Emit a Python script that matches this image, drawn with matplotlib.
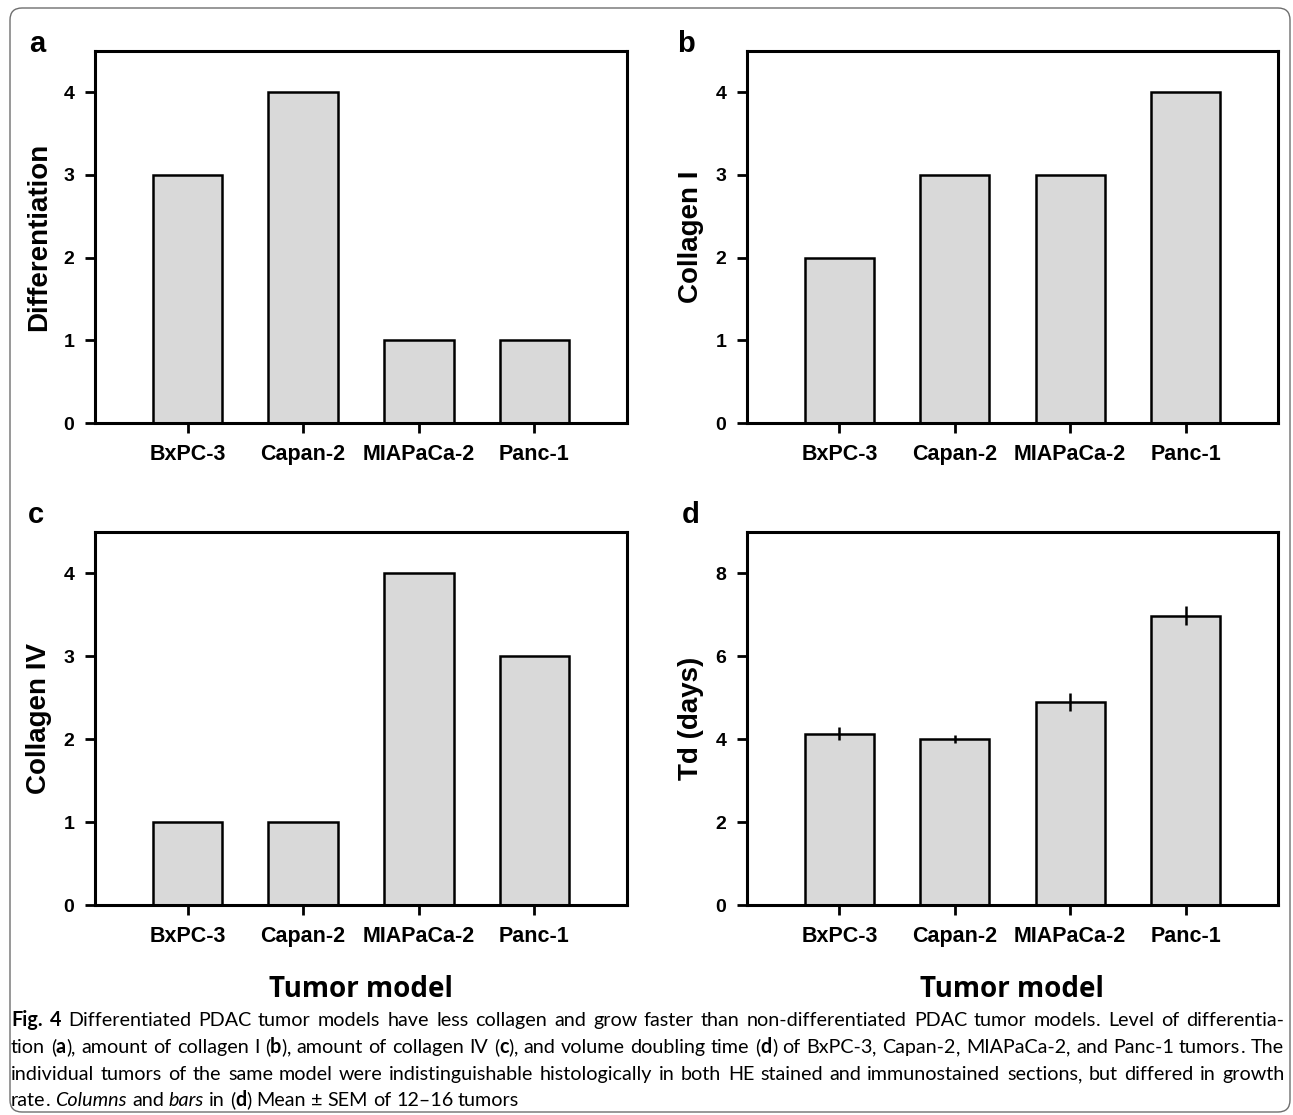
import re
import matplotlib
matplotlib.use("Agg")
import matplotlib.pyplot as plt
from matplotlib.patches import FancyBboxPatch

# data
models = ["BxPC-3", "Capan-2", "MIAPaCa-2", "Panc-1"]
differentiation = [3, 4, 1, 1]
collagen_1 = [2, 3, 3, 4]
collagen_4 = [1, 1, 4, 3]
td_days = [4.13, 4.01, 4.90, 6.97]
td_sem = [0.15, 0.10, 0.22, 0.23]

caption_lines = [
    "*Fig.* *4*  Differentiated PDAC tumor models have less collagen and grow faster than non-differentiated PDAC tumor models. Level of differentia-",
    "tion (*a*), amount of collagen I (*b*), amount of collagen IV (*c*), and volume doubling time (*d*) of BxPC-3, Capan-2, MIAPaCa-2, and Panc-1 tumors. The",
    "individual tumors of the same model were indistinguishable histologically in both HE stained and immunostained sections, but differed in growth",
    "rate. _Columns_ and _bars_ in (*d*) Mean \u00b1 SEM of 12\u201316 tumors",
]

W, H = 1293, 1115
fig = plt.figure(figsize=(W / 100, H / 100), dpi=100)

def px_rect(left, top, right, bottom):
    return [left / W, 1 - bottom / H, (right - left) / W, (bottom - top) / H]

# panel: letter, values, errors, ylabel, yticks, ymax, box (l, t, r, b), letter pos
panels = [
    ("a", differentiation, None, "Differentiation", [0, 1, 2, 3, 4], 4.5, (95, 50.7, 627, 423), (29, 52)),
    ("b", collagen_1, None, "Collagen I", [0, 1, 2, 3, 4], 4.5, (747, 50.7, 1278, 423), (677, 52)),
    ("c", collagen_4, None, "Collagen IV", [0, 1, 2, 3, 4], 4.5, (95, 531.7, 627, 905), (28, 523)),
    ("d", td_days, td_sem, "Td (days)", [0, 2, 4, 6, 8], 9.0, (747, 531.7, 1278, 905), (682, 523)),
]

bold_font = "Liberation Sans"
x = list(range(len(models)))

for letter, vals, err, ylab, yt, ymax, box, lpos in panels:
    ax = fig.add_axes(px_rect(*box))
    ax.bar(x, vals, width=0.6, color="#d9d9d9", edgecolor="black", linewidth=1.8, zorder=2)
    if err is not None:
        ax.errorbar(x, vals, yerr=err, fmt="none", ecolor="black", elinewidth=1.8, capsize=0, zorder=3)
    ax.set_xlim(-0.8, 3.8)
    ax.set_ylim(0, ymax)
    ax.set_yticks(yt)
    ax.set_xticks(x)
    ax.set_xticklabels(models)
    for s in ax.spines.values():
        s.set_linewidth(2.2)
    ax.tick_params(axis="both", direction="out", length=7, width=2)
    ax.tick_params(axis="x", pad=8, labelsize=15.5)
    ax.tick_params(axis="y", pad=8, labelsize=14)
    for lbl in ax.get_xticklabels() + ax.get_yticklabels():
        lbl.set_fontweight("bold")
        lbl.set_family(bold_font)
    ax.set_ylabel(ylab, fontsize=20, fontweight="bold", family=bold_font, labelpad=8)
    fig.text(lpos[0] / W, 1 - lpos[1] / H, letter, fontsize=21, fontweight="bold",
             family=bold_font, ha="left", va="baseline")

# x axis titles under bottom panels
for cx in (361, 1012):
    fig.text(cx / W, 1 - 997 / H, "Tumor model", fontsize=20, fontweight="bold",
             family="Open Sans", ha="center", va="baseline")

# caption, justified like the journal layout
cap_font = "Lato"
renderer = fig.canvas.get_renderer()

def style_kw(style):
    if style == "bold":
        return {"fontweight": "bold"}
    if style == "italic":
        return {"fontstyle": "italic"}
    return {}

def parse_word(word):
    # split on markup, and keep trailing punctuation as its own run
    runs = []
    for piece in re.split(r"(\*[^*]+\*|_[^_]+_)", word):
        if not piece:
            continue
        if piece.startswith("*"):
            runs.append((piece[1:-1], "bold"))
        elif piece.startswith("_"):
            runs.append((piece[1:-1], "italic"))
        else:
            m = re.match(r"^(.*?)([,.]*)$", piece)
            if m.group(1):
                runs.append((m.group(1), "normal"))
            if m.group(2):
                runs.append((m.group(2), "normal"))
    return runs

def text_width(s, style, size):
    t = fig.text(0, 0, s, fontsize=size, family=cap_font, **style_kw(style))
    w = t.get_window_extent(renderer).width
    t.remove()
    return w

left, right = 11, 1284
baselines = [1026, 1053, 1080, 1106]
parsed = [[parse_word(w) for w in line.split()] for line in caption_lines]

# largest size where every justified line still has a normal-looking gap
cap_size = 15.0
while cap_size > 9:
    sp = text_width("x x", "normal", cap_size) - text_width("xx", "normal", cap_size)
    ok = True
    for words in parsed[:-1]:
        total = sum(text_width(s, st, cap_size) for runs in words for s, st in runs)
        if (right - left - total) / (len(words) - 1) < sp:
            ok = False
            break
    if ok:
        break
    cap_size -= 0.25

space_w = text_width("x x", "normal", cap_size) - text_width("xx", "normal", cap_size)

for i, words in enumerate(parsed):
    widths = [[text_width(s, st, cap_size) for s, st in runs] for runs in words]
    total = sum(sum(w) for w in widths)
    if i < len(parsed) - 1:
        gap = (right - left - total) / (len(words) - 1)
    else:
        gap = space_w
    xpos = left
    for runs, ws in zip(words, widths):
        for (s, st), w in zip(runs, ws):
            fig.text(round(xpos) / W, 1 - baselines[i] / H, s, fontsize=cap_size, family=cap_font,
                     ha="left", va="baseline", **style_kw(st))
            xpos += w
        xpos += gap

# rounded frame around the whole figure
frame = FancyBboxPatch((10, H - 1112), 1280, 1104, boxstyle="round,pad=0,rounding_size=12",
                       facecolor="none", edgecolor="#6e6e6e", linewidth=1.0, transform=None)
fig.add_artist(frame)

fig.savefig("out.png", dpi=100)
